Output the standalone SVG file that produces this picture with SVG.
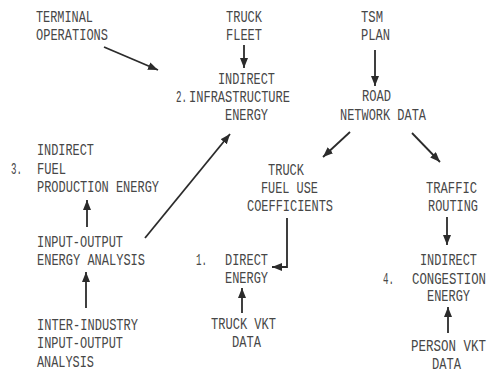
<svg xmlns="http://www.w3.org/2000/svg" width="488" height="373" viewBox="0 0 488 373">
<style>
text{font-family:"Liberation Mono","DejaVu Sans Mono",monospace;font-size:16.5px;fill:#474747;}
.c path,.c line{stroke:#2b2b2b;stroke-width:1.8;fill:none;marker-end:url(#ah);}
</style>
<defs>
<marker id="ah" markerUnits="userSpaceOnUse" markerWidth="12" markerHeight="10" refX="10" refY="4" orient="auto">
<path d="M0,0 L10,4 L0,8 Z" fill="#2b2b2b"/>
</marker>
</defs>
<rect width="488" height="373" fill="#ffffff"/>
<g id="terminal">
<text x="36" y="22" textLength="57" lengthAdjust="spacingAndGlyphs">TERMINAL</text>
<text x="36" y="40" textLength="72" lengthAdjust="spacingAndGlyphs">OPERATIONS</text>
</g>
<g id="truckfleet">
<text x="226" y="22" textLength="36" lengthAdjust="spacingAndGlyphs">TRUCK</text>
<text x="226" y="40" textLength="36" lengthAdjust="spacingAndGlyphs">FLEET</text>
</g>
<g id="tsm">
<text x="361" y="22" textLength="22" lengthAdjust="spacingAndGlyphs">TSM</text>
<text x="361" y="40" textLength="29" lengthAdjust="spacingAndGlyphs">PLAN</text>
</g>
<g id="infra">
<text x="218" y="84" textLength="57" lengthAdjust="spacingAndGlyphs">INDIRECT</text>
<text x="176" y="102" textLength="11" lengthAdjust="spacingAndGlyphs">2.</text>
<text x="189" y="102" textLength="101" lengthAdjust="spacingAndGlyphs">INFRASTRUCTURE</text>
<text x="225" y="120" textLength="43" lengthAdjust="spacingAndGlyphs">ENERGY</text>
</g>
<g id="road">
<text x="362" y="101" textLength="29" lengthAdjust="spacingAndGlyphs">ROAD</text>
<text x="340" y="120" textLength="86" lengthAdjust="spacingAndGlyphs">NETWORK DATA</text>
</g>
<g id="fuelprod">
<text x="37" y="155" textLength="57" lengthAdjust="spacingAndGlyphs">INDIRECT</text>
<text x="11" y="174" textLength="11" lengthAdjust="spacingAndGlyphs">3.</text>
<text x="37" y="174" textLength="29" lengthAdjust="spacingAndGlyphs">FUEL</text>
<text x="37" y="192" textLength="122" lengthAdjust="spacingAndGlyphs">PRODUCTION ENERGY</text>
</g>
<g id="ioenergy">
<text x="37" y="247" textLength="86" lengthAdjust="spacingAndGlyphs">INPUT-OUTPUT</text>
<text x="37" y="265" textLength="108" lengthAdjust="spacingAndGlyphs">ENERGY ANALYSIS</text>
</g>
<g id="interindustry">
<text x="37" y="330" textLength="101" lengthAdjust="spacingAndGlyphs">INTER-INDUSTRY</text>
<text x="37" y="348" textLength="86" lengthAdjust="spacingAndGlyphs">INPUT-OUTPUT</text>
<text x="37" y="367" textLength="57" lengthAdjust="spacingAndGlyphs">ANALYSIS</text>
</g>
<g id="coeff">
<text x="268" y="175" textLength="36" lengthAdjust="spacingAndGlyphs">TRUCK</text>
<text x="261" y="193" textLength="57" lengthAdjust="spacingAndGlyphs">FUEL USE</text>
<text x="247" y="211" textLength="86" lengthAdjust="spacingAndGlyphs">COEFFICIENTS</text>
</g>
<g id="traffic">
<text x="426" y="193" textLength="51" lengthAdjust="spacingAndGlyphs">TRAFFIC</text>
<text x="428" y="211" textLength="50" lengthAdjust="spacingAndGlyphs">ROUTING</text>
</g>
<g id="direct">
<text x="196" y="265" textLength="11" lengthAdjust="spacingAndGlyphs">1.</text>
<text x="225" y="265" textLength="43" lengthAdjust="spacingAndGlyphs">DIRECT</text>
<text x="225" y="283" textLength="43" lengthAdjust="spacingAndGlyphs">ENERGY</text>
</g>
<g id="truckvkt">
<text x="211" y="329" textLength="65" lengthAdjust="spacingAndGlyphs">TRUCK VKT</text>
<text x="232" y="347" textLength="29" lengthAdjust="spacingAndGlyphs">DATA</text>
</g>
<g id="congestion">
<text x="420" y="265" textLength="57" lengthAdjust="spacingAndGlyphs">INDIRECT</text>
<text x="383" y="284" textLength="11" lengthAdjust="spacingAndGlyphs">4.</text>
<text x="412" y="284" textLength="74" lengthAdjust="spacingAndGlyphs">CONGESTION</text>
<text x="427" y="301" textLength="43" lengthAdjust="spacingAndGlyphs">ENERGY</text>
</g>
<g id="personvkt">
<text x="411" y="351" textLength="75" lengthAdjust="spacingAndGlyphs">PERSON VKT</text>
<text x="432" y="369" textLength="29" lengthAdjust="spacingAndGlyphs">DATA</text>
</g>
<g id="connectors" class="c">
<line x1="104" y1="47" x2="158" y2="70"/>
<line x1="244" y1="45" x2="244" y2="68"/>
<line x1="375" y1="50" x2="375" y2="86"/>
<line x1="350" y1="132" x2="323" y2="157"/>
<line x1="412" y1="133" x2="440" y2="162"/>
<line x1="145" y1="238" x2="230" y2="134"/>
<line x1="87" y1="227" x2="87" y2="200"/>
<line x1="86" y1="308" x2="86" y2="272"/>
<path d="M287,218 L287,267 L272,267"/>
<line x1="242" y1="313" x2="242" y2="288"/>
<line x1="447" y1="217" x2="447" y2="245"/>
<line x1="448" y1="333" x2="448" y2="307"/>
</g>
</svg>
